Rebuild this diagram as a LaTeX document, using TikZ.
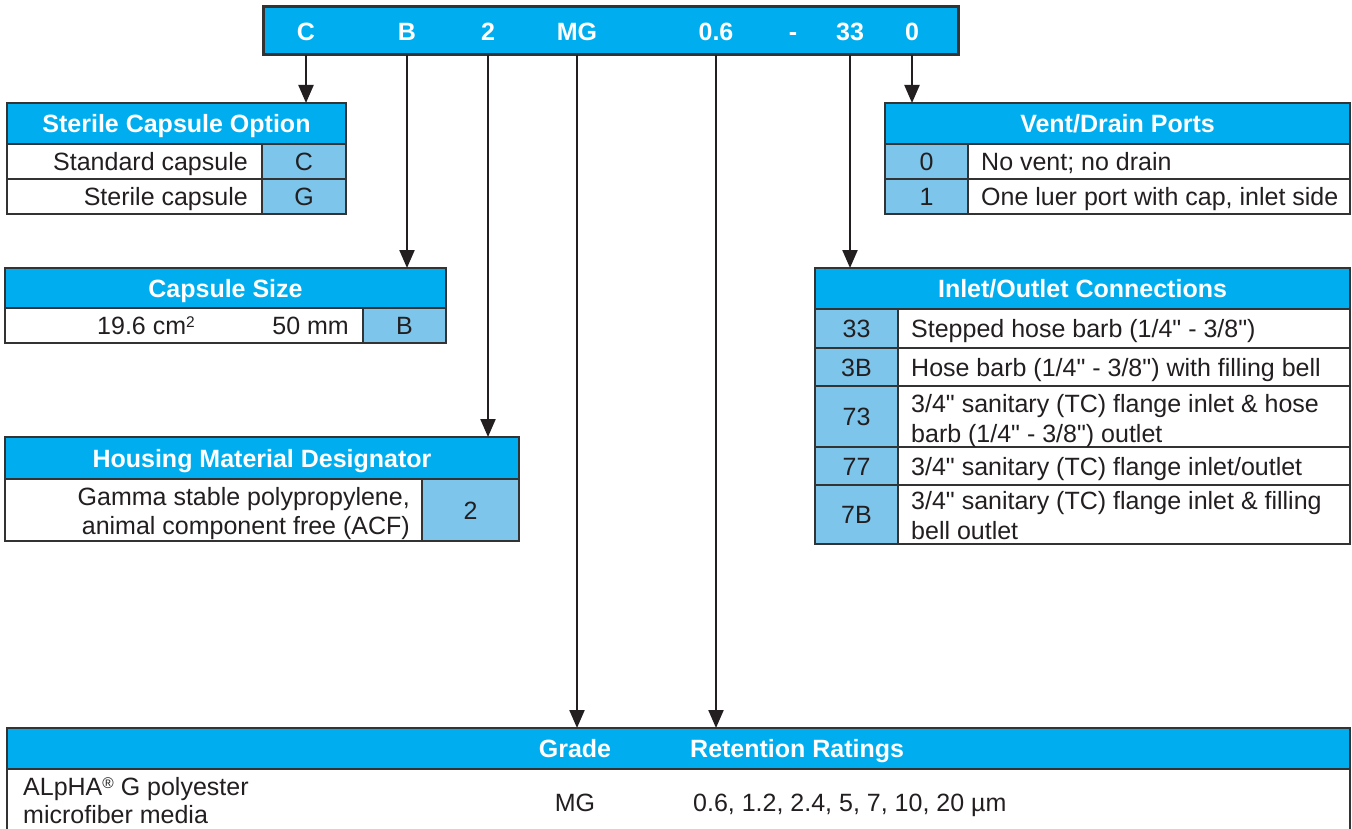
\documentclass[tikz,border=0pt]{standalone}
\usepackage{fontspec}
\setmainfont{Liberation Sans}[Ligatures=TeXOff]
\usetikzlibrary{arrows.meta}
\definecolor{hcyan}{HTML}{00AEEF}
\definecolor{cblue}{HTML}{7DC5EB}
\definecolor{bord}{HTML}{333333}
\definecolor{tcol}{HTML}{231F20}
\newcommand{\bfontx}{\fontsize{25}{30}\selectfont}
\newcommand{\hfontx}{\fontsize{25}{30}\selectfont\bfseries}
\newcommand{\smallsup}[1]{\raisebox{7pt}{\fontsize{15.5}{15.5}\selectfont #1}}
\tikzset{
  x=1pt, y=-1pt,
  cellbase/.style={draw=bord, line width=1.4pt, anchor=north west, inner sep=0pt, outer sep=0pt},
  hd/.style={cellbase, fill=hcyan, text=white, font=\hfontx, text height=18pt, text depth=0pt},
  cd/.style={cellbase, fill=cblue, text=tcol, font=\bfontx, text height=18pt, text depth=0pt},
  bd/.style={cellbase, fill=white},
  tx/.style={text=tcol, font=\bfontx, inner sep=0pt, text height=18pt, text depth=0pt},
  htx/.style={text=white, font=\hfontx, inner sep=0pt, text height=18pt, text depth=0pt},
  arr/.style={line width=2.2pt, draw=tcol, -{Triangle[length=18pt,width=15pt]}},
}
\begin{document}
\begin{tikzpicture}
\useasboundingbox[fill=white] (0,0) rectangle (1352,829);

% top bar
\node[cellbase, fill=hcyan, line width=3pt, minimum width=695pt, minimum height=48pt] (bar) at (263,7) {};
\node[htx] (lC) at (306,32) {C};
\node[htx] (lB) at (407,32) {B};
\node[htx] (l2) at (488,32) {2};
\node[htx] (lMG) at (577,32) {MG};
\node[htx] (l06) at (716,32) {0.6};
\node[htx] (ldash) at (793,32) {-};
\node[htx] (l33) at (850,32) {33};
\node[htx] (l0) at (912,32) {0};

% Sterile Capsule Option
\node[hd, minimum width=339pt, minimum height=41pt] (sH) at (7,103) {Sterile Capsule Option};
\node[bd, minimum width=255pt, minimum height=35pt] (sB1) at (7,144) {};
\node[cd, minimum width=84pt, minimum height=35pt] (sC1) at (262,144) {C};
\node[bd, minimum width=255pt, minimum height=35pt] (sB2) at (7,179) {};
\node[cd, minimum width=84pt, minimum height=35pt] (sC2) at (262,179) {G};
\node[tx, anchor=east] (sT1) at (248,161.5) {Standard capsule};
\node[tx, anchor=east] (sT2) at (248,196.5) {Sterile capsule};

% Capsule Size
\node[hd, minimum width=441pt, minimum height=40pt] (zH) at (5,268) {Capsule Size};
\node[bd, minimum width=358pt, minimum height=35pt] (zB) at (5,308) {};
\node[cd, minimum width=83pt, minimum height=35pt] (zC) at (363,308) {B};
\node[tx, anchor=west] (zT1) at (97,325.5) {19.6 cm\smallsup{2}};
\node[tx, anchor=east] (zT2) at (349,325.5) {50 mm};

% Housing Material Designator
\node[hd, minimum width=514pt, minimum height=42pt] (hH) at (5,437) {Housing Material Designator};
\node[bd, minimum width=417pt, minimum height=62pt] (hB) at (5,479) {};
\node[cd, minimum width=97pt, minimum height=62pt] (hC) at (422,479) {2};
\node[tx, anchor=east] (hT1) at (410,496) {Gamma stable polypropylene,};
\node[tx, anchor=east] (hT2) at (410,525) {animal component free (ACF)};

% Vent/Drain Ports
\node[hd, minimum width=465pt, minimum height=41pt] (vH) at (885,103) {Vent/Drain Ports};
\node[cd, minimum width=83pt, minimum height=35pt] (vC1) at (885,144) {0};
\node[bd, minimum width=382pt, minimum height=35pt] (vB1) at (968,144) {};
\node[cd, minimum width=83pt, minimum height=35pt] (vC2) at (885,179) {1};
\node[bd, minimum width=382pt, minimum height=35pt] (vB2) at (968,179) {};
\node[tx, anchor=west] (vT1) at (981,161.5) {No vent; no drain};
\node[tx, anchor=west] (vT2) at (981,196.5) {One luer port with cap, inlet side};

% Inlet/Outlet Connections
\node[hd, minimum width=535pt, minimum height=41pt] (iH) at (815,268) {Inlet/Outlet Connections};
\node[cd, minimum width=83pt, minimum height=39pt] (iC1) at (815,309) {33};
\node[bd, minimum width=452pt, minimum height=39pt] (iB1) at (898,309) {};
\node[cd, minimum width=83pt, minimum height=38pt] (iC2) at (815,348) {3B};
\node[bd, minimum width=452pt, minimum height=38pt] (iB2) at (898,348) {};
\node[cd, minimum width=83pt, minimum height=61pt] (iC3) at (815,386) {73};
\node[bd, minimum width=452pt, minimum height=61pt] (iB3) at (898,386) {};
\node[cd, minimum width=83pt, minimum height=38pt] (iC4) at (815,447) {77};
\node[bd, minimum width=452pt, minimum height=38pt] (iB4) at (898,447) {};
\node[cd, minimum width=83pt, minimum height=59pt] (iC5) at (815,485) {7B};
\node[bd, minimum width=452pt, minimum height=59pt] (iB5) at (898,485) {};
\node[tx, anchor=west] (iT1) at (911,328.5) {Stepped hose barb (1/4" - 3/8")};
\node[tx, anchor=west] (iT2) at (911,367) {Hose barb (1/4" - 3/8") with filling bell};
\node[tx, anchor=west] (iT3a) at (911,403) {3/4" sanitary (TC) flange inlet \& hose};
\node[tx, anchor=west] (iT3b) at (911,433) {barb (1/4" - 3/8") outlet};
\node[tx, anchor=west] (iT4) at (911,466) {3/4" sanitary (TC) flange inlet/outlet};
\node[tx, anchor=west] (iT5a) at (911,500) {3/4" sanitary (TC) flange inlet \& filling};
\node[tx, anchor=west] (iT5b) at (911,530) {bell outlet};

% Bottom table
\node[hd, minimum width=1343pt, minimum height=41pt] (bH) at (7,728) {};
\node[bd, minimum width=1343pt, minimum height=90pt] (bB) at (7,769) {};
\node[htx] (bG) at (575,748) {Grade};
\node[htx, anchor=west] (bR) at (690,748) {Retention Ratings};
\node[tx, anchor=west] (bT1) at (23,786.5) {ALpHA\smallsup{®} G polyester};
\node[tx, anchor=west] (bT2) at (23,814.5) {microfiber media};
\node[tx] (bMG) at (575,802) {MG};
\node[tx, anchor=west] (bRR) at (693,802) {0.6, 1.2, 2.4, 5, 7, 10, 20 µm};

% arrows
\draw[arr] (lC |- bar.south) -- (lC |- sH.north);
\draw[arr] (lB |- bar.south) -- (lB |- zH.north);
\draw[arr] (l2 |- bar.south) -- (l2 |- hH.north);
\draw[arr] (lMG |- bar.south) -- (lMG |- bH.north);
\draw[arr] (l06 |- bar.south) -- (l06 |- bH.north);
\draw[arr] (l33 |- bar.south) -- (l33 |- iH.north);
\draw[arr] (l0 |- bar.south) -- (l0 |- vH.north);
\end{tikzpicture}
\end{document}
